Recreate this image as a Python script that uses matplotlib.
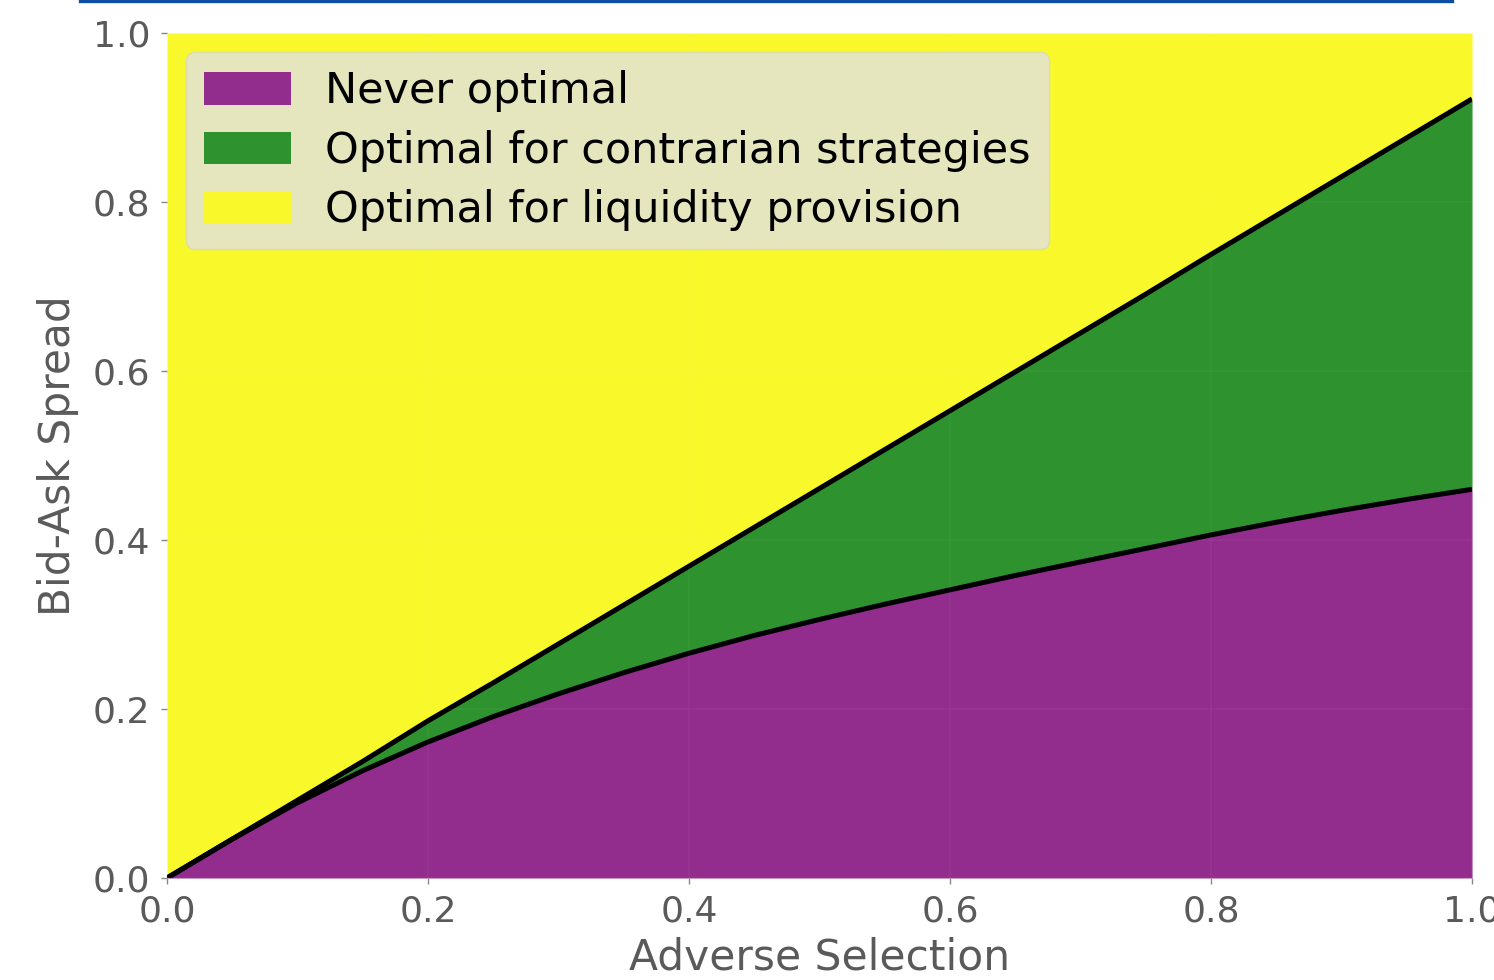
import numpy as np
import matplotlib
matplotlib.use("Agg")
import matplotlib.pyplot as plt
from matplotlib.lines import Line2D

# Adverse selection grid and the two boundary curves of the bid-ask spread
adverse_selection = [0.00, 0.05, 0.10, 0.15, 0.20, 0.25, 0.30, 0.35, 0.40, 0.45, 0.50,
                     0.55, 0.60, 0.65, 0.70, 0.75, 0.80, 0.85, 0.90, 0.95, 1.00]
lower_boundary = [0.000, 0.046, 0.089, 0.127, 0.161, 0.191, 0.218, 0.243, 0.266, 0.287, 0.306,
                  0.324, 0.341, 0.358, 0.374, 0.390, 0.406, 0.421, 0.435, 0.448, 0.460]
upper_boundary = [0.000, 0.046, 0.092, 0.138, 0.186, 0.231, 0.277, 0.323, 0.369, 0.415, 0.461,
                  0.507, 0.553, 0.599, 0.645, 0.691, 0.738, 0.784, 0.830, 0.876, 0.922]

region_labels = ["Never optimal",
                 "Optimal for contrarian strategies",
                 "Optimal for liquidity provision"]
region_colors = ["#922D8E", "#2E922E", "#F8F82B"]

x_ticks = [0.0, 0.2, 0.4, 0.6, 0.8, 1.0]
y_ticks = [0.0, 0.2, 0.4, 0.6, 0.8, 1.0]

x = np.array(adverse_selection)
lo = np.array(lower_boundary)
hi = np.array(upper_boundary)

fig = plt.figure(figsize=(14.94, 9.80), dpi=100)
ax = fig.add_axes([0.1118, 0.1041, 0.8735, 0.8622])

ax.fill_between(x, 0, lo, color=region_colors[0], label=region_labels[0], lw=0)
ax.fill_between(x, lo, hi, color=region_colors[1], label=region_labels[1], lw=0)
ax.fill_between(x, hi, 1.0, color=region_colors[2], label=region_labels[2], lw=0)
ax.plot(x, lo, color="black", lw=3.6, solid_capstyle="butt", solid_joinstyle="round")
ax.plot(x, hi, color="black", lw=3.6, solid_capstyle="butt", solid_joinstyle="round")

ax.set_xlim(0, 1)
ax.set_ylim(0, 1)
ax.set_xticks(x_ticks)
ax.set_yticks(y_ticks)
ax.set_xticklabels([f"{t:.1f}" for t in x_ticks])
ax.set_yticklabels([f"{t:.1f}" for t in y_ticks])
ax.grid(True, color="white", alpha=0.035, lw=1.2)
ax.set_axisbelow(False)
for s in ax.spines.values():
    s.set_visible(False)

ax.tick_params(axis="both", labelsize=26, colors="#888888", labelcolor="#5a5a5a",
               length=4, width=1, pad=8)
ax.set_xlabel("Adverse Selection", fontsize=30.5, color="#5a5a5a", labelpad=6)
ax.set_ylabel("Bid-Ask Spread", fontsize=30.5, color="#5a5a5a", labelpad=10)

leg = ax.legend(loc="upper left", fontsize=31, frameon=True, fancybox=True,
                facecolor="#E6E6BE", edgecolor="#DCDCB2", framealpha=1.0,
                handlelength=2.0, handleheight=0.77, handletextpad=0.8,
                labelspacing=0.40, borderpad=0.42, borderaxespad=0.45)
leg.get_frame().set_linewidth(1.0)

# thin rule along the top edge of the figure
fig.add_artist(Line2D([0.0535, 0.972], [0.9985, 0.9985], transform=fig.transFigure,
                      color="#0B4EA2", lw=2.4))

fig.savefig("out.png", dpi=100)
